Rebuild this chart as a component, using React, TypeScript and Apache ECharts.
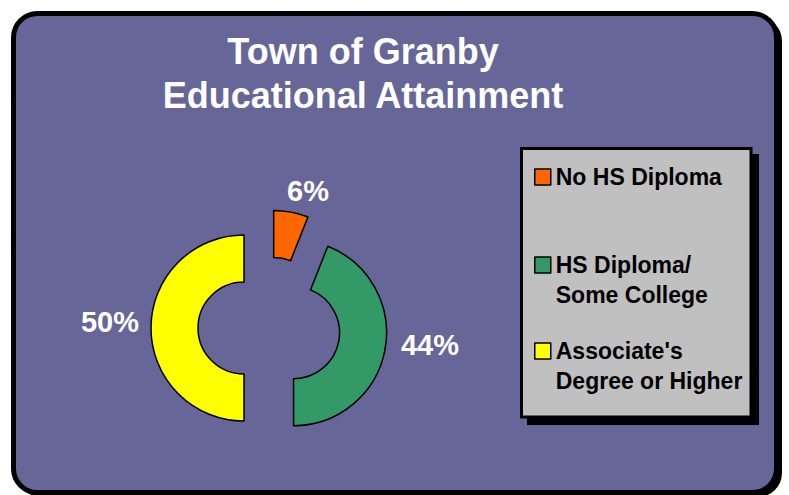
import React, { useEffect, useRef } from "react";
import * as echarts from "echarts";

const titleLines = ["Town of Granby", "Educational Attainment"];
const categories = ["No HS Diploma", "HS Diploma/\nSome College", "Associate's\nDegree or Higher"];
const shares = [6, 44, 50];
const sliceColors = ["#FF6600", "#339966", "#FFFF00"];

const FONT = 'Arial, "Liberation Sans", Helvetica, sans-serif';

// per-slice label placement (layout only)
const labelLineLen = [21, 0, 0];
const labelDist = [-8, 16, 12];
const labelShiftY = [0, -5, -6];
const legendTops = [162, 220, 306];

export default function App() {
  const ref = useRef<HTMLDivElement>(null);

  useEffect(() => {
    if (!ref.current) return;
    const chart = echarts.init(ref.current, undefined, { renderer: "svg" });

    const legends = categories.map((name, i) => ({
      data: [name],
      orient: "vertical",
      left: 534,
      top: legendTops[i],
      padding: 0,
      itemWidth: 16,
      itemHeight: 16,
      icon: "rect",
      selectedMode: false,
      // a blank first line keeps the first text line level with the swatch
      formatter: (n: string) => (n.includes("\n") ? " \n" + n : n),
      itemStyle: { borderColor: "#000", borderWidth: 1.5 },
      textStyle: {
        color: "#000",
        fontFamily: FONT,
        fontWeight: "bold",
        fontSize: 23,
        lineHeight: 30,
      },
    }));

    chart.setOption({
      animation: false,
      backgroundColor: "#ffffff",
      graphic: [
        {
          type: "rect",
          z: -20,
          silent: true,
          shape: { x: 17, y: 17, width: 765, height: 480, r: 24 },
          style: { fill: "#000" },
        },
        {
          type: "rect",
          z: -19,
          silent: true,
          shape: { x: 13.5, y: 13.5, width: 763, height: 479, r: 24 },
          style: { fill: "#666699", stroke: "#000", lineWidth: 5 },
        },
        {
          type: "rect",
          z: -18,
          silent: true,
          shape: { x: 527, y: 154, width: 232, height: 271 },
          style: { fill: "#000" },
        },
        {
          type: "rect",
          z: -17,
          silent: true,
          shape: { x: 521.5, y: 148.5, width: 229.5, height: 268.5 },
          style: { fill: "#C0C0C0", stroke: "#000", lineWidth: 3 },
        },
      ],
      title: {
        text: titleLines.join("\n"),
        left: 363,
        top: 29,
        padding: 0,
        textAlign: "center",
        textStyle: {
          color: "#ffffff",
          fontFamily: FONT,
          fontWeight: "bold",
          fontSize: 36,
          lineHeight: 44,
        },
      },
      legend: legends,
      series: [
        {
          type: "pie",
          center: [269, 328],
          radius: [46, 93],
          startAngle: 90,
          clockwise: true,
          selectedMode: "multiple",
          selectedOffset: 25,
          avoidLabelOverlap: false,
          emphasis: { disabled: true },
          itemStyle: { borderColor: "#000", borderWidth: 1.5 },
          select: { itemStyle: { borderColor: "#000", borderWidth: 1.5 } },
          label: {
            show: true,
            position: "outside",
            formatter: "{c}%",
            color: "#ffffff",
            fontFamily: FONT,
            fontWeight: "bold",
            fontSize: 29,
          },
          labelLine: { show: false, length: 0, length2: 0 },
          labelLayout: (p: any) => ({ dy: labelShiftY[p.dataIndex] }),
          data: categories.map((name, i) => ({
            name,
            value: shares[i],
            selected: true,
            itemStyle: { color: sliceColors[i] },
            label: { distanceToLabelLine: labelDist[i] },
            labelLine: { show: false, length: labelLineLen[i], length2: 0 },
          })),
        },
      ],
    });

    return () => chart.dispose();
  }, []);

  return (
    <div
      ref={ref}
      style={{ position: "absolute", left: 0, top: 0, width: 789, height: 495 }}
    />
  );
}
